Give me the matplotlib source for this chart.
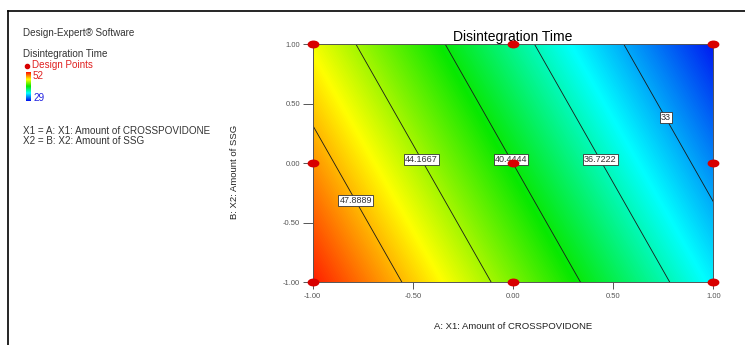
import numpy as np
import matplotlib
matplotlib.use("Agg")
import matplotlib.pyplot as plt
from matplotlib.colors import LinearSegmentedColormap
from matplotlib.lines import Line2D
from matplotlib.path import Path
from matplotlib.transforms import Affine2D

plt.rcParams['font.family'] = ['Liberation Sans', 'DejaVu Sans']

# fitted linear model: Y = b0 + bA*A + bB*B (coded units)
b0 = 40.44
bA = -8.35
bB = -2.82

# 3^2 factorial design points (coded)
design_a = [-1, 0, 1, -1, 0, 1, -1, 0, 1]
design_b = [-1, -1, -1, 0, 0, 0, 1, 1, 1]

levels = [33.0, 36.7222, 40.4444, 44.1667, 47.8889]
label_at = [(0.77, 0.39), (0.445, 0.04), (0.0, 0.04), (-0.45, 0.04), (-0.78, -0.31)]
y_range = [29, 52]
ticks = [-1.0, -0.5, 0.0, 0.5, 1.0]

cmap = LinearSegmentedColormap.from_list(
    'de', [(0.0, '#0010f0'), (0.27, '#00ffff'), (0.51, '#08e800'),
           (0.75, '#ffff00'), (1.0, '#ff1000')])

fig = plt.figure(figsize=(7.45, 3.45), dpi=100)
W, H = 745.0, 345.0

ax = fig.add_axes([312.7 / W, 1 - 282.3 / H, 400.6 / W, 238.0 / H])

a = np.linspace(-1, 1, 401)
b = np.linspace(-1, 1, 401)
AA, BB = np.meshgrid(a, b)
Y = b0 + bA * AA + bB * BB

ax.imshow(Y, extent=[-1, 1, -1, 1], origin='lower', aspect='auto',
          cmap=cmap, vmin=y_range[0], vmax=y_range[1], interpolation='bilinear')
cs = ax.contour(AA, BB, Y, levels=levels, colors='#1a1a1a', linewidths=0.6)
labels = ax.clabel(cs, fmt='%g', manual=label_at, inline=False, fontsize=6.5,
                   colors='#333333')
for t in labels:
    t.set_rotation(0)
    t.set_bbox(dict(boxstyle='square,pad=0.12', fc='white', ec='#333333', lw=0.6))

# elliptical design point marker
ell = Path.unit_circle().transformed(Affine2D().scale(1.6, 1.0))
ax.plot(design_a, design_b, linestyle='none', marker=ell, markersize=7.5,
        color='#d80000', clip_on=False, zorder=5)

ax.set_xlim(-1, 1)
ax.set_ylim(-1, 1)
ax.set_xticks(ticks)
ax.set_yticks(ticks)
ax.set_xticklabels(['%.2f' % v for v in ticks])
ax.set_yticklabels(['%.2f' % v for v in ticks])
ax.tick_params(axis='x', length=5, width=0.7, pad=2.5, labelsize=5.5, colors='#555555')
ax.tick_params(axis='y', length=7, width=0.7, pad=2, labelsize=5.5, colors='#555555')
for s in ax.spines.values():
    s.set_color('#555555')
    s.set_linewidth(0.7)

ax.set_title('Disintegration Time', fontsize=10, pad=2)
ax.set_xlabel('A: X1: Amount of CROSSPOVIDONE', fontsize=6.8, color='#222222', va='center')
ax.xaxis.set_label_coords(0.5, -0.184)
ax.set_ylabel('B: X2: Amount of SSG', fontsize=6.8, color='#222222', va='center')
ax.yaxis.set_label_coords(-0.195, 0.465)

# left-hand info panel
txt = '#333333'
fs = 7.1
fig.text(23 / W, 1 - 33 / H, 'Design-Expert\u00ae Software', fontsize=fs, color=txt, va='center')
fig.text(23 / W, 1 - 54 / H, 'Disintegration Time', fontsize=fs, color=txt, va='center')
fig.add_artist(Line2D([26.5 / W], [1 - 66 / H], marker='o', markersize=3,
                      color='#d80000', linestyle='none'))
fig.text(32 / W, 1 - 65.5 / H, 'Design Points', fontsize=fs, color='#e02020', va='center')
fig.text(33 / W, 1 - 76 / H, '%d' % y_range[1], fontsize=fs, color='#e02020', va='center')
fig.text(33 / W, 1 - 98 / H, '%d' % y_range[0], fontsize=fs, color='#2020e0', va='center')
cax = fig.add_axes([26 / W, 1 - 101 / H, 5 / W, 29 / H])
cax.imshow(np.linspace(y_range[1], y_range[0], 100).reshape(-1, 1), aspect='auto',
           cmap=cmap, vmin=y_range[0], vmax=y_range[1])
cax.set_axis_off()
fig.text(23 / W, 1 - 131 / H, 'X1 = A: X1: Amount of CROSSPOVIDONE', fontsize=fs, color=txt, va='center')
fig.text(23 / W, 1 - 141 / H, 'X2 = B: X2: Amount of SSG', fontsize=fs, color=txt, va='center')

# outer frame (top and left edges)
fig.add_artist(Line2D([8 / W, 1.0], [1 - 10.5 / H, 1 - 10.5 / H], color='black', lw=1.2))
fig.add_artist(Line2D([8 / W, 8 / W], [0.0, 1 - 10.5 / H], color='black', lw=1.2))

fig.savefig('out.png', dpi=100)
